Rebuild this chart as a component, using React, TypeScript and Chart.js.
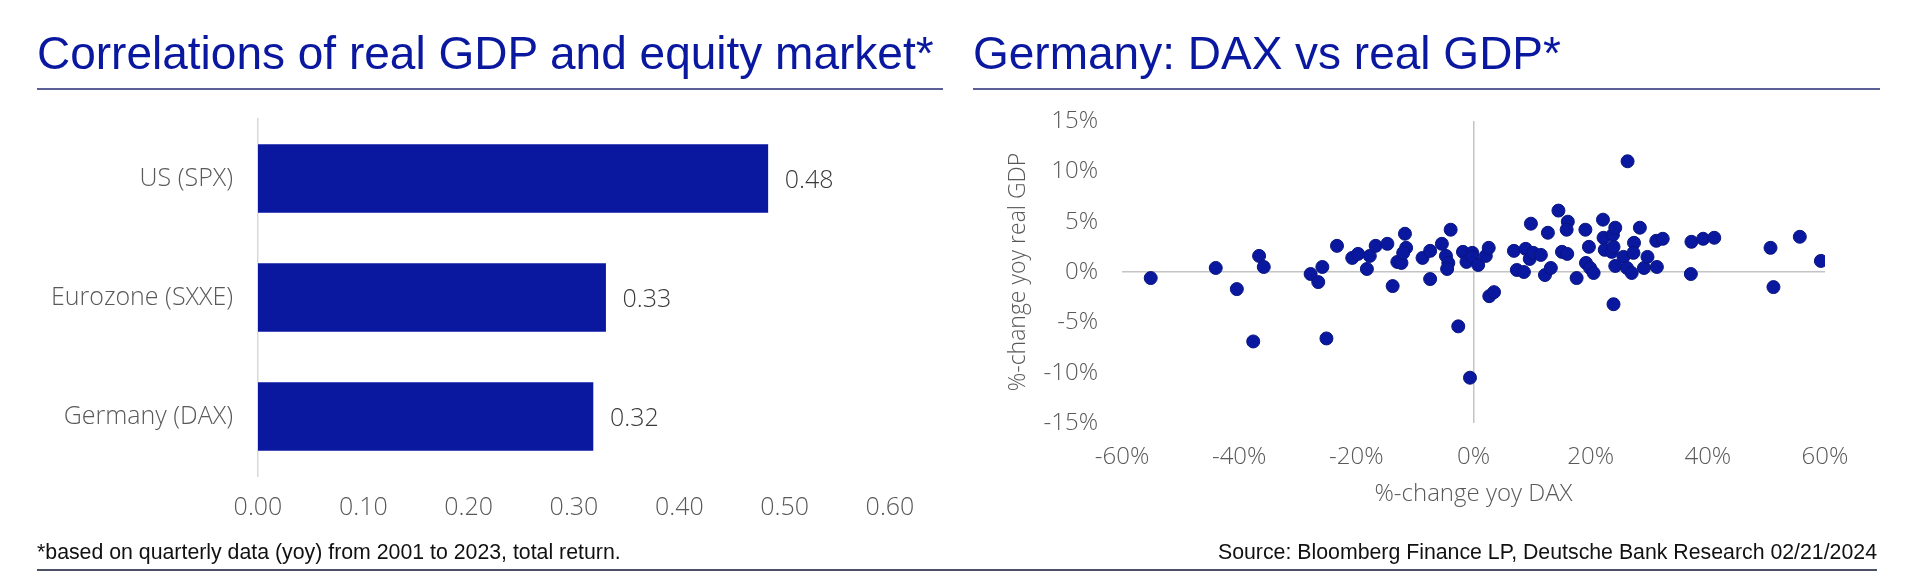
import React, { useEffect, useRef } from 'react';
import { Chart, registerables } from 'chart.js';

Chart.register(...registerables);

// ---------- Data ----------
const barCategories = ['US (SPX)', 'Eurozone (SXXE)', 'Germany (DAX)'];
const barValues = [0.484, 0.33, 0.318];

// %-change yoy DAX (x) and %-change yoy real GDP (y), quarterly 2001-2023
const daxChange = [
  -55.1, -44.0, -36.6, -35.8, -40.4, -37.6,
  -27.8, -26.5, -25.8, -25.1, -23.3, -20.7, -19.7, -18.2, -17.7, -16.7, -14.7, -13.8, -13.0, -12.3,
  -11.7, -11.5, -12.0, -8.7, -7.4, -7.4, -5.4, -3.9, -4.7, -4.3, -4.5, -2.6, -0.6,
  -1.8, -0.2, -1.2, -0.2, 0.8, 2.1, 2.6, 2.7, 3.5,
  6.9, 7.4, 8.6, 8.9, 9.8, 9.6, 10.2, 11.5, 12.2, 12.7, 13.2, 14.5, 15.1, 16.0, 16.1, 15.9, 17.6,
  19.1, 19.7, 19.2, 19.9, 20.5, 22.1, 22.2, 22.4, 23.9, 23.6, 23.8, 24.2, 23.9, 24.2, 25.6, 26.3,
  26.2, 27.0, 27.4, 27.3, 28.4, 29.1, 29.7, 31.3, 31.2, 32.3,
  37.2, 39.2, 41.1, 37.1, 50.7, 55.7, 51.2, 59.3,
];
const gdpChange = [
  -0.6, 0.4, 1.6, 0.5, -1.7, -6.9,
  -0.2, -1.0, 0.5, -6.6, 2.6, 1.4, 1.8, 0.3, 1.6, 2.6, 2.8, -1.4, 1.0, 0.9,
  3.8, 2.4, 1.9, 1.4, 2.1, -0.7, 2.8, 4.2, 1.6, 0.9, 0.3, -5.4, -10.5,
  2.0, 1.9, 1.0, 1.5, 0.7, 1.6, 2.4, -2.4, -2.0,
  2.1, 0.2, 0.0, 2.3, 4.8, 1.3, 1.9, 1.7, -0.3, 3.9, 0.4, 6.1, 2.0, 1.8, 5.0, 4.2, -0.6,
  4.2, 2.5, 0.9, 0.4, -0.1, 5.2, 3.4, 2.2, -3.2, 2.0, 3.7, 4.4, 2.5, 0.6, 1.5, 11.0,
  0.4, -0.1, 2.9, 1.9, 4.4, 0.4, 1.5, 0.5, 3.1, 3.3,
  3.0, 3.3, 3.4, -0.2, 2.4, 3.5, -1.5, 1.1,
];

const BLUE = '#0a18a0';
const GREY_TEXT = '#595959';
const FONT = "'Open Sans', 'Liberation Sans', sans-serif";
const TITLE_FONT = "'Liberation Sans', Arial, sans-serif";

const valueLabels = {
  id: 'valueLabels',
  afterDatasetsDraw(chart: any) {
    const { ctx } = chart;
    const meta = chart.getDatasetMeta(0);
    ctx.save();
    ctx.font = `300 25px ${FONT}`;
    ctx.fillStyle = '#3a3a3a';
    ctx.textBaseline = 'middle';
    ctx.textAlign = 'left';
    meta.data.forEach((el: any, i: number) => {
      ctx.fillText(barValues[i].toFixed(2), el.x + 17, el.y + 2);
    });
    ctx.restore();
  },
};

export default function App() {
  const barRef = useRef<HTMLCanvasElement>(null);
  const scRef = useRef<HTMLCanvasElement>(null);

  useEffect(() => {
    Chart.defaults.font.family = FONT;
    const bar = new Chart(barRef.current!, {
      type: 'bar',
      data: {
        labels: barCategories,
        datasets: [{ data: barValues, backgroundColor: BLUE, barThickness: 68 }],
      },
      options: {
        indexAxis: 'y',
        responsive: false,
        animation: false,
        layout: { padding: { left: 0, top: 119, right: 70, bottom: 48 } },
        plugins: { legend: { display: false }, tooltip: { enabled: false } },
        scales: {
          x: {
            min: 0,
            max: 0.6,
            ticks: {
              stepSize: 0.1,
              callback: (v: any) => Number(v).toFixed(2),
              padding: 17,
              font: { size: 25, weight: '300' },
              color: GREY_TEXT,
            },
            grid: { display: false, drawTicks: false },
            border: { display: false },
            afterFit: (s: any) => { s.height = 60; },
          },
          y: {
            ticks: { padding: 25, font: { size: 25, weight: '300' }, color: GREY_TEXT },
            grid: { display: false, drawTicks: false },
            border: { display: true, color: '#d9d9d9', width: 1.5 },
            afterFit: (s: any) => { s.width = 258; },
          },
        },
      } as any,
      plugins: [valueLabels],
    });

    const sc = new Chart(scRef.current!, {
      type: 'scatter',
      data: {
        datasets: [{
          data: daxChange.map((x, i) => ({ x, y: gdpChange[i] })),
          backgroundColor: BLUE,
          borderColor: '#08157e',
          borderWidth: 1,
          pointRadius: 6.5,
        }],
      },
      options: {
        responsive: false,
        animation: false,
        layout: { padding: { left: 30, top: 121, right: 95, bottom: 61 } },
        plugins: { legend: { display: false }, tooltip: { enabled: false } },
        scales: {
          x: {
            type: 'linear',
            min: -60,
            max: 60,
            ticks: {
              stepSize: 20,
              callback: (v: any) => `${v}%`,
              padding: 20,
              font: { size: 24, weight: '300' },
              color: GREY_TEXT,
            },
            grid: {
              drawTicks: false,
              color: (c: any) => (c.tick && c.tick.value === 0 ? '#c4c4c4' : 'rgba(0,0,0,0)'),
              lineWidth: 1.5,
            },
            border: { display: false },
            title: {
              display: true,
              text: '%-change yoy DAX',
              font: { size: 24, weight: '300' },
              color: GREY_TEXT,
              padding: { top: 0, bottom: 14 },
            },
            afterFit: (s: any) => { s.height = 100; },
          },
          y: {
            type: 'linear',
            min: -15,
            max: 15,
            ticks: {
              stepSize: 5,
              callback: (v: any) => `${v}%`,
              padding: 24,
              font: { size: 24, weight: '300' },
              color: GREY_TEXT,
            },
            grid: {
              drawTicks: false,
              color: (c: any) => (c.tick && c.tick.value === 0 ? '#c4c4c4' : 'rgba(0,0,0,0)'),
              lineWidth: 1.5,
            },
            border: { display: false },
            title: {
              display: true,
              text: '%-change yoy real GDP',
              font: { size: 23, weight: '300' },
              color: GREY_TEXT,
              padding: { top: 15, bottom: 0 },
            },
            afterFit: (s: any) => { s.width = 132; },
          },
        },
      } as any,
    });

    return () => { bar.destroy(); sc.destroy(); };
  }, []);

  const titleStyle: React.CSSProperties = {
    position: 'absolute', top: 30, fontFamily: TITLE_FONT, fontSize: 46, lineHeight: '46px',
    color: BLUE, whiteSpace: 'nowrap', margin: 0,
  };
  const noteStyle: React.CSSProperties = {
    position: 'absolute', top: 542, fontFamily: TITLE_FONT, fontSize: 21.3, lineHeight: '21px',
    color: '#111', whiteSpace: 'nowrap',
  };

  return (
    <div style={{ position: 'absolute', left: 0, top: 0, width: 1920, height: 584, background: '#fff', overflow: 'hidden' }}>
      <canvas ref={barRef} width={960} height={584} style={{ position: 'absolute', left: 0, top: 0, width: 960, height: 584 }} />
      <canvas ref={scRef} width={960} height={584} style={{ position: 'absolute', left: 960, top: 0, width: 960, height: 584 }} />
      <div style={{ ...titleStyle, left: 37 }}>Correlations of real GDP and equity market*</div>
      <div style={{ ...titleStyle, left: 973 }}>Germany: DAX vs real GDP*</div>
      <div style={{ position: 'absolute', left: 37, top: 88, width: 906, height: 2, background: '#5b5f97' }} />
      <div style={{ position: 'absolute', left: 973, top: 88, width: 907, height: 2, background: '#5b5f97' }} />
      <div style={{ ...noteStyle, left: 37 }}>*based on quarterly data (yoy) from 2001 to 2023, total return.</div>
      <div style={{ ...noteStyle, right: 43 }}>Source: Bloomberg Finance LP, Deutsche Bank Research 02/21/2024</div>
      <div style={{ position: 'absolute', left: 37, top: 569, width: 1840, height: 2, background: '#4d5166' }} />
    </div>
  );
}
